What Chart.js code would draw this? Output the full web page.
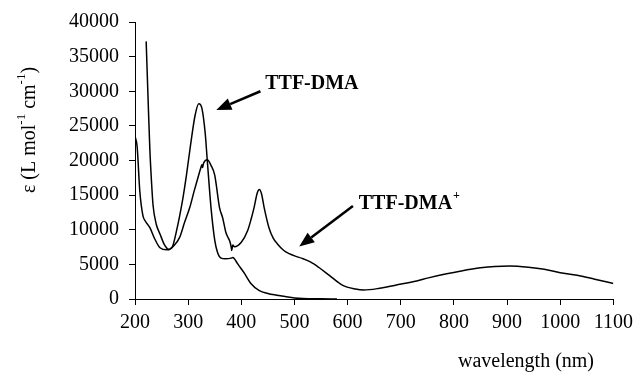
<!DOCTYPE html>
<html>
<head>
<meta charset="utf-8">
<script src="https://cdn.jsdelivr.net/npm/chart.js@4/dist/chart.umd.min.js"></script>
<style>
html,body{margin:0;padding:0;background:#fff;}
#wrap{width:639px;height:376px;}
</style>
</head>
<body>
<div id="wrap"><canvas id="c" width="639" height="376"></canvas></div>
<script>
// TTF-DMA (neutral)
const neutralWl = [200,204,209,215,219,228,237,247,260,270,278,290,297,305,313,320,326,332,336,343,350,355,362,370,381,384,387,393,406,418,434,450,465,500,550,580];
const neutralEps = [23500,22000,15600,12000,11300,10300,8700,7400,7100,7500,9800,14500,18000,22500,26500,28200,27500,24000,20000,13200,8500,6800,5900,5800,5900,6000,5800,5100,3700,2250,1200,800,570,150,20,0];
// TTF-DMA+ (cation)
const cationWl = [221,225,228,231,234,240,247,255,264,272,284,293,303,311,318,324,326,327,329,336,343,350,359,365,371,378,381,382,384,387,400,412,418,424,430,434,438,443,452,460,468,480,490,503,515,530,546,565,590,615,630,660,690,730,752,784,814,850,877,905,940,970,1000,1032,1065,1100];
const cationEps = [37200,28000,21500,17000,13500,10800,9400,7900,7150,7600,8900,11000,13200,15500,17400,19000,19400,19000,19600,20100,19300,17900,13200,11700,9600,8400,7500,7000,7800,7550,8200,9900,11400,13200,15300,15800,15200,13200,10300,8800,7950,7000,6550,6150,5850,5350,4550,3450,2000,1430,1290,1550,2000,2600,3050,3600,4050,4500,4710,4770,4600,4300,3800,3430,2850,2240];

const xTicks = [200,300,400,500,600,700,800,900,1000,1100];
const yTicks = [0,5000,10000,15000,20000,25000,30000,35000,40000];

// annotation labels (positions in data units: wavelength, epsilon)
const labelNames = ["TTF-DMA", "TTF-DMA"];
const labelSups = ["", "+"];
const labelAt = [[445, 31140], [621, 13710]];
const arrowFrom = [[436, 30000], [610, 13430]];
const arrowTo = [[353, 27290], [509, 7570]];

const serif = "'Liberation Serif','Times New Roman',serif";

function pts(xs, ys){ return xs.map((x,i)=>({x:x, y:ys[i]})); }

const overlay = {
  id: 'overlay',
  afterDraw(chart){
    const ctx = chart.ctx;
    const xs = chart.scales.x, ys = chart.scales.y;
    ctx.save();
    ctx.fillStyle = '#000';
    ctx.strokeStyle = '#000';
    for (let i=0;i<labelNames.length;i++){
      const tx = xs.getPixelForValue(labelAt[i][0]);
      const ty = ys.getPixelForValue(labelAt[i][1]);
      ctx.font = "bold 20px " + serif;
      ctx.textBaseline = 'middle';
      ctx.textAlign = 'left';
      ctx.fillText(labelNames[i], tx, ty);
      if (labelSups[i]) {
        const w = ctx.measureText(labelNames[i]).width;
        ctx.font = "bold 12px " + serif;
        ctx.fillText(labelSups[i], tx + w + 1, ty - 8);
      }
      const x1 = xs.getPixelForValue(arrowFrom[i][0]), y1 = ys.getPixelForValue(arrowFrom[i][1]);
      const x2 = xs.getPixelForValue(arrowTo[i][0]), y2 = ys.getPixelForValue(arrowTo[i][1]);
      const ang = Math.atan2(y2-y1, x2-x1);
      const hl = 15, hw = 6;
      const bx = x2 - hl*Math.cos(ang), by = y2 - hl*Math.sin(ang);
      ctx.lineWidth = 2.5;
      ctx.beginPath(); ctx.moveTo(x1,y1); ctx.lineTo(bx,by); ctx.stroke();
      ctx.beginPath();
      ctx.moveTo(x2,y2);
      ctx.lineTo(bx + hw*Math.sin(ang), by - hw*Math.cos(ang));
      ctx.lineTo(bx - hw*Math.sin(ang), by + hw*Math.cos(ang));
      ctx.closePath(); ctx.fill();
    }
    ctx.font = "20px " + serif;
    ctx.textAlign = 'center';
    ctx.textBaseline = 'middle';
    ctx.fillText("wavelength (nm)", 526, 362);
    const parts = [["ε (L mol",0],["-1",1],[" cm",0],["-1",1],[")",0]];
    let total = 0;
    const widths = parts.map(p=>{ ctx.font = (p[1]? "13px ":"20px ") + serif; const w = ctx.measureText(p[0]).width; total += w; return w; });
    ctx.translate(30, 130);
    ctx.rotate(-Math.PI/2);
    ctx.textAlign = 'left';
    let cx = -total/2;
    parts.forEach((p,i)=>{
      ctx.font = (p[1]? "13px ":"20px ") + serif;
      ctx.fillText(p[0], cx, p[1] ? -8 : 0);
      cx += widths[i];
    });
    ctx.restore();
  }
};

new Chart(document.getElementById('c'), {
  type: 'line',
  data: {
    datasets: [
      { label: 'TTF-DMA', data: pts(neutralWl, neutralEps), borderColor:'#000', borderWidth:1.5, pointRadius:0, cubicInterpolationMode:'monotone', fill:false },
      { label: 'TTF-DMA+', data: pts(cationWl, cationEps), borderColor:'#000', borderWidth:1.5, pointRadius:0, cubicInterpolationMode:'monotone', fill:false }
    ]
  },
  options: {
    responsive: false,
    animation: false,
    layout: { padding: { top: 19, right: 23, left: 0, bottom: 0 } },
    plugins: { legend: { display:false }, tooltip: { enabled:false } },
    scales: {
      x: {
        type: 'linear', min: 200, max: 1100,
        afterBuildTicks(s){ s.ticks = xTicks.map(v=>({value:v})); },
        afterFit(s){ s.height = 77; },
        grid: { display:true, drawOnChartArea:false, drawTicks:true, tickLength:6, color:'#000', lineWidth:1 },
        border: { display:true, color:'#000', width:1 },
        ticks: { color:'#000', font:{ family: serif, size:20 }, padding:6, maxRotation:0, autoSkip:false, callback:v=>String(v) }
      },
      y: {
        min: 0, max: 40000,
        afterBuildTicks(s){ s.ticks = yTicks.map(v=>({value:v})); },
        afterFit(s){ s.width = 135; },
        grid: { display:true, drawOnChartArea:false, drawTicks:true, tickLength:6, color:'#000', lineWidth:1 },
        border: { display:true, color:'#000', width:1 },
        ticks: { color:'#000', font:{ family: serif, size:20 }, padding:10, autoSkip:false, callback:v=>String(v) }
      }
    }
  },
  plugins: [overlay]
});
</script>
</body>
</html>
